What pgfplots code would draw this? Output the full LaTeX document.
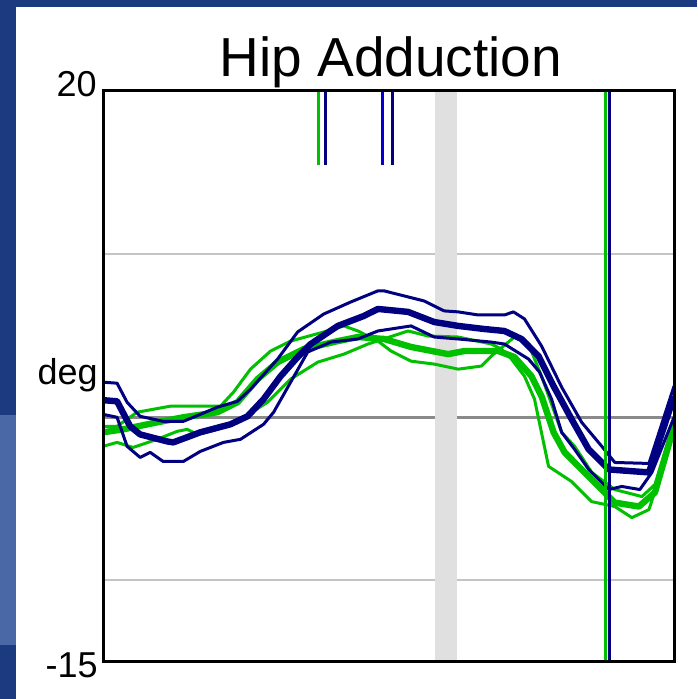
\documentclass[border=0pt]{standalone}
\usepackage{fontspec}
\setmainfont{Liberation Sans}
\usepackage{pgfplots}
\pgfplotsset{compat=1.18}
\usepackage{pgfplotstable}

\definecolor{bgblue}{HTML}{1B3A80}
\definecolor{bglight}{HTML}{4A68A5}
\definecolor{navy}{HTML}{000080}
\definecolor{grn}{HTML}{00C000}
\definecolor{brblue}{HTML}{0000CC}
\definecolor{band}{HTML}{E0E0E0}
\definecolor{gridlt}{HTML}{C4C4C4}
\definecolor{griddk}{HTML}{8A8A8A}

% blue: upper, mean, lower
\pgfplotstableread{
x y
0 2.15
2.46 2.09
4.22 0.92
6.50 0.06
10.54 -0.25
14.06 -0.25
17.05 0.18
20.04 0.62
23.55 0.98
25.83 1.72
30.58 3.57
34.09 5.23
38.66 6.33
43.41 7.07
48.15 7.75
49.21 7.75
56.24 7.13
59.75 6.52
62.21 6.46
65.73 6.27
70.30 6.27
71.88 6.46
73.81 6.03
76.80 4.37
80.32 1.85
83.83 -0.31
87.35 -1.78
89.63 -2.77
95.61 -2.83
100 1.91
}\blueup

\pgfplotstableread{
x y
0 1.05
2.46 0.98
4.75 -0.55
6.50 -1.05
11.25 -1.48
12.30 -1.54
17.05 -0.92
22.32 -0.43
25.31 0.06
28.12 1.11
31.11 2.52
34.09 3.69
36.38 4.49
41.12 5.60
45.69 6.21
48.15 6.64
53.43 6.46
58.00 5.84
62.21 5.60
66.78 5.41
70.30 5.29
73.29 4.80
76.27 3.75
78.91 1.91
82.07 -0.12
85.06 -1.97
88.58 -3.20
95.61 -3.38
100 1.29
}\bluemean

\pgfplotstableread{
x y
0 0.18
2.46 0
4.22 -1.78
6.50 -2.46
8.26 -2.15
10.54 -2.71
14.06 -2.71
17.05 -2.09
21.09 -1.54
24.08 -1.35
28.12 -0.43
29.88 0.31
32.86 2.15
35.85 4.00
39.89 4.61
44.64 4.80
48.15 5.29
53.95 5.60
58.00 4.92
62.21 4.80
68.01 4.61
70.30 4.49
74.52 3.57
76.45 2.77
78.56 1.11
80.32 -0.92
82.60 -1.97
85.06 -3.20
88.58 -4.43
90.86 -4.24
94.02 -4.43
96.13 -3.38
100 0
}\bluelow

% green: two thin curves and the mean
\pgfplotstableread{
x y
0 -0.55
2.46 -0.55
5.98 0.31
11.78 0.68
20.56 0.68
22.85 1.54
25.83 2.95
29.35 4.06
32.86 4.67
38.66 5.23
42.18 5.60
44.64 5.29
48.15 4.67
50.44 4.06
53.95 3.44
58.00 3.26
62.21 2.95
66.26 3.14
68.01 3.75
72.06 4.92
74.52 4.49
76.80 2.52
80.32 -0.92
82.60 -1.78
85.59 -3.38
89.63 -4.43
94.38 -4.86
96.66 -4.12
100 -0.31
}\greenone

\pgfplotstableread{
x y
0 -0.92
3.51 -0.74
9.49 -0.31
14.06 0
20.04 0.31
23.55 0.92
27.07 2.34
30.58 3.38
35.15 4.18
41.12 4.67
44.64 4.92
49.21 4.80
53.95 4.31
60.46 3.87
63.27 4.06
69.24 4.06
72.06 3.69
75.04 2.52
76.80 1.29
78.91 -0.92
80.84 -2.15
83.83 -3.20
87.35 -4.43
89.63 -5.23
93.85 -5.47
96.66 -4.61
100 -0.55
}\greenmean

\pgfplotstableread{
x y
0 -1.78
2.46 -1.54
5.27 -1.85
9.49 -1.35
13.01 -0.86
14.76 -0.74
16.52 -1.05
20.04 -0.74
24.08 -0.12
28.82 0.92
32.86 2.34
37.61 3.38
42.18 3.87
46.40 4.49
53.43 5.29
56.94 4.98
62.21 4.92
68.01 4.49
69.77 4.18
71.53 3.57
73.81 2.52
75.57 1.11
78.03 -3.01
82.07 -3.94
85.59 -5.17
89.63 -5.47
92.62 -6.15
95.61 -5.66
100 -0.92
}\greentwo

\begin{document}
\begin{tikzpicture}
\begin{scope}[x=0.5pt,y=0.5pt]
  \fill[white] (0,0) rectangle (697,699);
  \fill[bgblue] (0,0) rectangle (16,699);
  \fill[bgblue] (0,692) rectangle (697,699);
  \fill[bglight] (0,54) rectangle (16,284);
  \node[anchor=base, inner sep=0pt, font=\fontsize{27.5}{30}\selectfont] at (391,622) {Hip Adduction};
  \node[anchor=base east, inner sep=0pt, font=\fontsize{18}{20}\selectfont] at (97,602) {20};
  \node[anchor=base east, inner sep=0pt, font=\fontsize{18}{20}\selectfont] at (98,314) {deg};
  \node[anchor=base east, inner sep=0pt, font=\fontsize{18}{20}\selectfont] at (98,21) {-15};
\end{scope}
\begin{axis}[
  at={(51.5pt,18.5pt)}, anchor=south west,
  scale only axis, width=285.5pt, height=285.5pt,
  xmin=0, xmax=100, ymin=-15, ymax=20,
  xtick=\empty, ytick=\empty,
  axis line style={line width=1.5pt},
  axis on top,
  every axis plot/.append style={line join=round},
]
% grid lines
\addplot[gridlt, line width=1pt] coordinates {(0,10) (100,10)};
\addplot[gridlt, line width=1pt] coordinates {(0,-10) (100,-10)};
\addplot[griddk, line width=1.5pt] coordinates {(0,0) (100,0)};
% grey band
\addplot[band, line width=11pt] coordinates {(60.1,-15) (60.1,20)};
% green curves
\addplot[grn, line width=1.5pt] table {\greenone};
\addplot[grn, line width=1.5pt] table {\greentwo};
\addplot[grn, line width=3.2pt] table {\greenmean};
% blue curves
\addplot[navy, line width=1.5pt] table {\blueup};
\addplot[navy, line width=1.5pt] table {\bluelow};
\addplot[navy, line width=3.2pt] table {\bluemean};
% event lines
\addplot[grn, line width=1.5pt] coordinates {(88.05,-15) (88.05,20)};
\addplot[navy, line width=1.5pt] coordinates {(88.75,-15) (88.75,20)};
\addplot[grn, line width=1.5pt] coordinates {(37.8,15.45) (37.8,20)};
\addplot[navy, line width=1.5pt] coordinates {(38.9,15.45) (38.9,20)};
\addplot[brblue, line width=1.5pt] coordinates {(48.9,15.45) (48.9,20)};
\addplot[navy, line width=1.5pt] coordinates {(50.7,15.45) (50.7,20)};
\end{axis}
\end{tikzpicture}
\end{document}
